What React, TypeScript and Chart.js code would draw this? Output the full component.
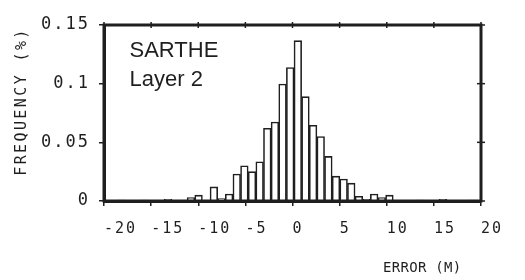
import React, { useEffect, useRef } from 'react';
import { Chart, registerables } from 'chart.js';

Chart.register(...registerables);

// Histogram bin centres (error, m) and frequencies
const binCenters = [
  -18.065, -15.635, -13.205, -10.775, -9.965, -9.155, -8.345, -7.535, -6.725,
  -5.915, -5.105, -4.295, -3.485, -2.675, -1.865, -1.055, -0.245, 0.565,
  1.375, 2.185, 2.995, 3.805, 4.615, 5.425, 6.235, 7.045, 7.855, 8.665,
  9.475, 10.285, 13.525, 15.955, 19.195,
];
const frequencies = [
  0.0008, 0.0008, 0.0015, 0.003, 0.005, 0, 0.012, 0.002, 0.006,
  0.023, 0.030, 0.025, 0.0334, 0.062, 0.0673, 0.0997, 0.1138, 0.1367,
  0.0889, 0.0645, 0.055, 0.038, 0.0212, 0.0187, 0.0152, 0.004, 0.0015, 0.006,
  0.003, 0.005, 0.0008, 0.0015, 0.0008,
];
const xTicks = [-20, -15, -10, -5, 0, 5, 10, 15, 20];
const yTicks = [0, 0.05, 0.1, 0.15];
const xTitle = 'ERROR (M)';
const yTitle = 'FREQUENCY (%)';
const annotation = ['SARTHE', 'Layer 2'];

const INK = '#1f1f1f';
const MONO = '"DejaVu Sans Mono", monospace';

export default function App() {
  const ref = useRef<HTMLCanvasElement>(null);

  useEffect(() => {
    if (!ref.current) return;
    const framePlugin = {
      id: 'frame',
      beforeDraw(chart: any) {
        (chart.ctx as any).letterSpacing = '2px';
      },
      afterDraw(chart: any) {
        const { ctx, chartArea: a, scales } = chart;
        ctx.save();
        (ctx as any).letterSpacing = '0px';
        ctx.strokeStyle = INK;
        ctx.lineWidth = 3;
        ctx.strokeRect(a.left, a.top, a.right - a.left, a.bottom - a.top);
        ctx.lineWidth = 1.5;
        for (const v of xTicks) {
          const px = scales.x.getPixelForValue(v);
          ctx.beginPath();
          ctx.moveTo(px, a.top - 3);
          ctx.lineTo(px, a.top + 3);
          ctx.stroke();
        }
        for (const v of yTicks) {
          const py = scales.y.getPixelForValue(v);
          ctx.beginPath();
          ctx.moveTo(a.right - 4, py);
          ctx.lineTo(a.right + 4, py);
          ctx.stroke();
        }
        ctx.fillStyle = INK;
        ctx.textAlign = 'left';
        ctx.textBaseline = 'alphabetic';
        ctx.font = '22px "Liberation Sans", Arial, sans-serif';
        ctx.fillText(annotation[0], a.left + 25.5, a.top + 31.7);
        ctx.fillText(annotation[1], a.left + 25.5, a.top + 60.7);

        ctx.font = '14px ' + MONO;
        (ctx as any).letterSpacing = '0.3px';
        ctx.fillText(xTitle, 383, 271.5);

        ctx.save();
        ctx.translate(22, 101.5);
        ctx.rotate(-Math.PI / 2);
        (ctx as any).letterSpacing = '2.4px';
        ctx.font = '15px ' + MONO;
        ctx.textAlign = 'center';
        ctx.textBaseline = 'middle';
        ctx.fillText(yTitle, 0, 0);
        ctx.restore();
        ctx.restore();
      },
    };

    const chart = new Chart(ref.current, {
      type: 'bar',
      data: {
        datasets: [
          {
            data: binCenters.map((x, i) => ({ x, y: frequencies[i] })),
            backgroundColor: '#ffffff',
            borderColor: INK,
            borderWidth: 1.6,
            barPercentage: 1,
            categoryPercentage: 1,
          } as any,
        ],
      },
      options: {
        responsive: false,
        animation: false,
        layout: { padding: { top: 25, right: 44, left: 0, bottom: 0 } },
        plugins: { legend: { display: false }, tooltip: { enabled: false } },
        scales: {
          x: {
            type: 'linear',
            min: -20,
            max: 20,
            offset: false,
            afterBuildTicks: (s: any) => {
              s.ticks = xTicks.map((value) => ({ value }));
            },
            afterFit: (s: any) => {
              s.height = 79;
              s.paddingLeft = 0;
              s.paddingRight = 0;
            },
            ticks: {
              autoSkip: false,
              maxRotation: 0,
              align: 'start',
              padding: 14,
              color: INK,
              font: { family: MONO, size: 15 },
              callback: (v: any) => String(v),
            },
            grid: {
              offset: false,
              drawOnChartArea: false,
              drawTicks: true,
              tickLength: 5,
              color: INK,
              lineWidth: 1.5,
            },
            border: { display: true, color: INK, width: 3 },
          },
          y: {
            min: 0,
            max: 0.15,
            afterBuildTicks: (s: any) => {
              s.ticks = yTicks.map((value) => ({ value }));
            },
            afterFit: (s: any) => {
              s.width = 104;
              s.paddingTop = 0;
              s.paddingBottom = 0;
            },
            ticks: {
              padding: 9,
              color: INK,
              font: { family: MONO, size: 17 },
              callback: (v: any) => String(Number(Number(v).toFixed(2))),
            },
            grid: {
              drawOnChartArea: false,
              drawTicks: true,
              tickLength: 5,
              color: INK,
              lineWidth: 1.5,
            },
            border: { display: true, color: INK, width: 3 },
          },
        },
      } as any,
      plugins: [framePlugin],
    });
    return () => chart.destroy();
  }, []);

  return (
    <div style={{ position: 'absolute', left: 0, top: 0, width: 525, height: 280, background: '#fff' }}>
      <canvas ref={ref} width={525} height={280} />
    </div>
  );
}
